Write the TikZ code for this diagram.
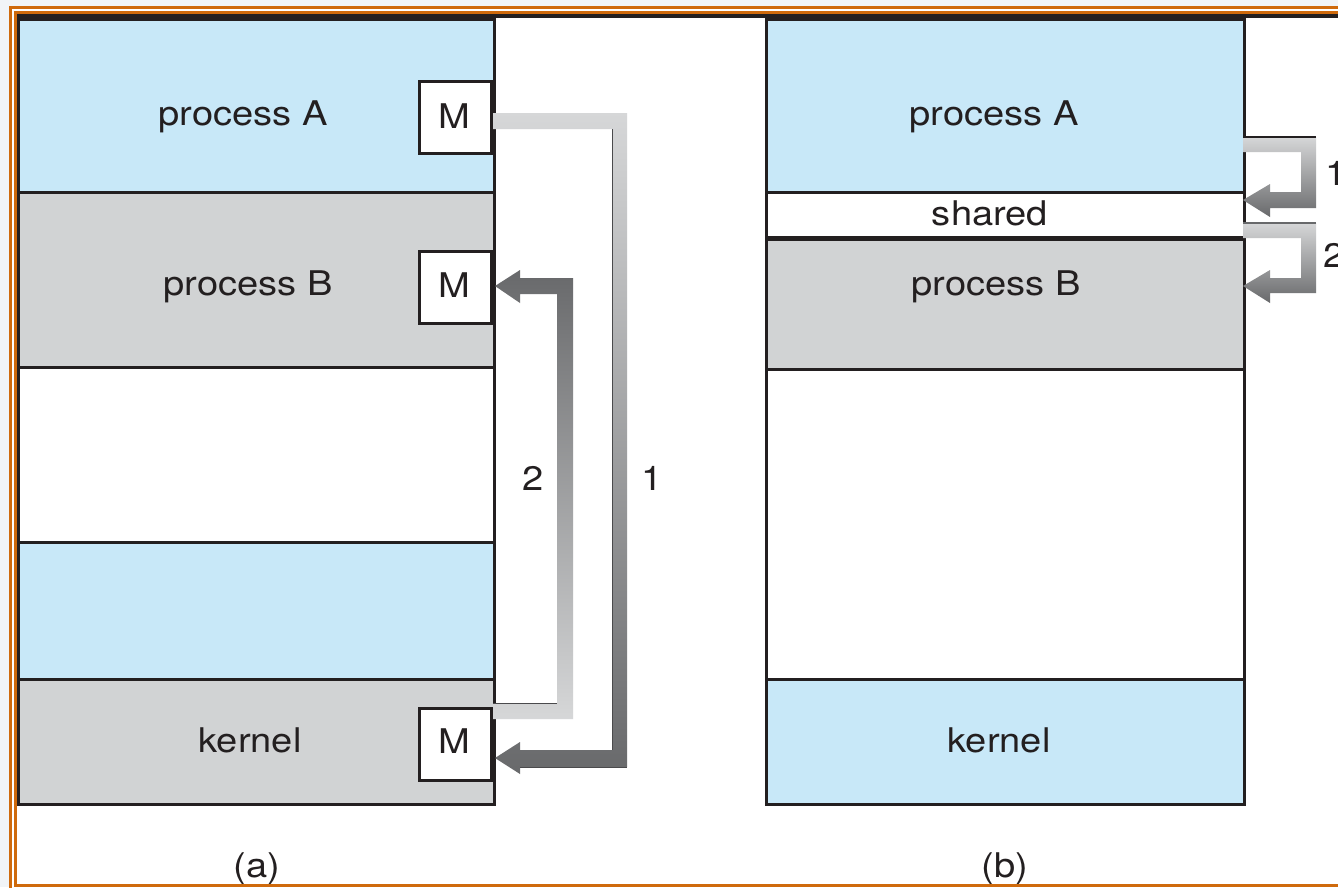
\documentclass[tikz,border=0pt]{standalone}
\usepackage{fontspec}
\setmainfont[FakeStretch=1.12]{TeX Gyre Heros}
\definecolor{lblue}{HTML}{C8E8F8}
\definecolor{lgray}{HTML}{D1D3D4}
\definecolor{edge}{HTML}{231F20}
\definecolor{frame}{HTML}{CF6A0C}
\definecolor{bgout}{HTML}{F1F4F7}
\definecolor{glight}{HTML}{D6D7D8}
\definecolor{gdark}{HTML}{68696B}
\definecolor{gline}{HTML}{4A4A4C}
\begin{document}
\begin{tikzpicture}[x=1pt,y=-1pt,
  font=\fontsize{34}{40}\selectfont,
  blk/.style={draw=edge, line width=2.5pt, inner sep=0pt, anchor=north west, minimum width=#1},
  mbox/.style={draw=edge, fill=white, line width=3.2pt, inner sep=0pt, anchor=north west,
    minimum width=72pt, minimum height=72pt},
  lbl/.style={anchor=base, inner sep=0pt, text=edge},
  orl/.style={draw=frame},
  arrowA/.style={top color=glight, bottom color=gdark},
  arrowB/.style={top color=gdark, bottom color=glight},
  edgeline/.style={draw=gline, line width=1pt}]
\useasboundingbox (0,0) rectangle (1338,887);
\fill[bgout] (0,0) rectangle (1338,887);
\fill[white] (10,7) rectangle (1338,887);

% ---- panel (a)
\node[blk=476pt, fill=lblue, minimum height=173pt] (a1) at (17,18) {};
\node[blk=476pt, fill=lgray, minimum height=175pt] (a2) at (17,191) {};
\node[blk=476pt, fill=white, minimum height=175pt] (a3) at (17,366) {};
\node[blk=476pt, fill=lblue, minimum height=137pt] (a4) at (17,541) {};
\node[blk=476pt, fill=lgray, minimum height=125pt] (a5) at (17,678) {};

\node[mbox] (mA) at (418,80) {};
\node[mbox] (mB) at (418,250) {};
\node[mbox] (mK) at (418,707) {};
\node[lbl] (tmA) at (454,128) {M};
\node[lbl] (tmB) at (454,297) {M};
\node[lbl] (tmK) at (454,753) {M};

\node[lbl] (tA) at (243,125) {process A};
\node[lbl] (tB) at (248,295) {process B};
\node[lbl] (tK) at (250,752) {kernel};

% arrow 1 (a): process A -> kernel
\shade[arrowA] (493,113) -- (627,113) -- (627,767) -- (520,767) -- (520,774)
  -- (495,758) -- (520,742) -- (520,750) -- (612,750) -- (612,129) -- (493,129) -- cycle;
\draw[edgeline] (612,129) -- (612,750);
\draw[edgeline] (520,767) -- (627,767);
% arrow 2 (a): kernel -> process B
\shade[arrowB] (493,703) -- (557,703) -- (557,294) -- (520,294) -- (520,303)
  -- (495,286) -- (520,270) -- (520,278) -- (573,278) -- (573,719) -- (493,719) -- cycle;
\draw[edgeline] (493,703) -- (557,703);
\draw[edgeline, draw=gdark] (520,278) -- (573,278);

\node[lbl] (n2a) at (533,490) {2};
\node[lbl] (n1a) at (652,490) {1};
\node[lbl] (capa) at (257,877) {(a)};

% ---- panel (b)
\node[blk=478pt, fill=lblue, minimum height=173pt] (b1) at (765,18) {};
\node[blk=478pt, fill=white, minimum height=47pt] (b2) at (765,191) {};
\node[blk=478pt, fill=lgray, minimum height=130pt] (b3) at (765,238) {};
\node[blk=478pt, fill=white, minimum height=310pt] (b4) at (765,368) {};
\node[blk=478pt, fill=lblue, minimum height=125pt] (b5) at (765,678) {};
\draw[edge, line width=4pt] (b3.north west) -- (b3.north east);

\node[lbl] (tA2) at (994,125) {process A};
\node[lbl] (tS2) at (990,225) {shared};
\node[lbl] (tB2) at (996,295) {process B};
\node[lbl] (tK2) at (999,752) {kernel};
\node[lbl] (capb) at (1005,877) {(b)};

% arrow 1 (b)
\shade[arrowA] (1243,137) -- (1316,137) -- (1316,208) -- (1270,208) -- (1270,217)
  -- (1243,200) -- (1270,184) -- (1270,192) -- (1301,192) -- (1301,152) -- (1243,152) -- cycle;
\draw[edge, line width=2pt] (1243,137) -- (1316,137);
% arrow 2 (b)
\shade[arrowA] (1243,223) -- (1316,223) -- (1316,293) -- (1270,293) -- (1270,303)
  -- (1243,286) -- (1270,270) -- (1270,278) -- (1301,278) -- (1301,238) -- (1243,238) -- cycle;
\draw[gdark, line width=1.2pt] (1243,223) -- (1316,223);

\node[lbl, anchor=base west] (n1b) at (1325,185) {1};
\node[lbl, anchor=base west] (n2b) at (1323,267) {2};

% ---- top rule and frame
\draw[edge, line width=4pt] (17,15.5) -- (1338,15.5);
\draw[orl, line width=2.5pt] (10.5,7.5) rectangle (1360,900);
\draw[orl, line width=3pt] (15,12) rectangle (1360,885.5);
\end{tikzpicture}
\end{document}
